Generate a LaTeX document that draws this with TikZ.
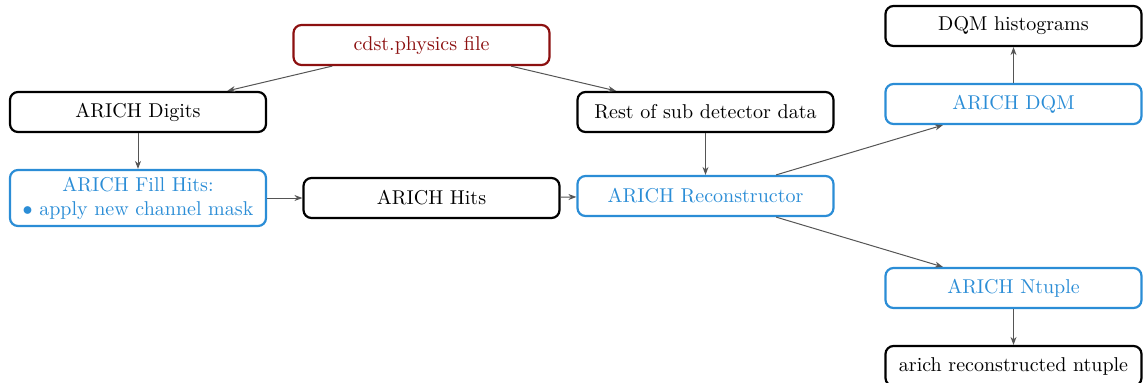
\documentclass[tikz,border=0pt]{standalone}
\usetikzlibrary{arrows.meta}
\definecolor{bblue}{RGB}{43,141,214}
\definecolor{dred}{RGB}{140,16,16}
\definecolor{agray}{RGB}{85,85,85}
\begin{document}
\begin{tikzpicture}[x=0.5pt,y=-0.5pt,
  box/.style={draw, rounded corners=4pt, line width=1.1pt, minimum width=128pt, minimum height=20pt, inner sep=2pt, align=center},
  blk/.style={box, draw=black, text=black},
  blu/.style={box, draw=bblue, text=bblue},
  red/.style={box, draw=dred, text=dred},
  conn/.style={draw=agray, line width=0.5pt, -{Stealth[length=4pt,width=3pt]}}]
\useasboundingbox (0,0) rectangle (1146,382);
\node[red] (cdst) at (421.5,45) {cdst.physics file};
\node[blk] (digits) at (138,112) {ARICH Digits};
\node[blk] (rest) at (705.5,112) {Rest of sub detector data};
\node[blu, minimum height=28pt, inner sep=1pt] (fill) at (138,198) {ARICH Fill Hits:\\ $\bullet$ apply new channel mask};
\node[blk] (hits) at (431.5,198) {ARICH Hits};
\node[blu] (reco) at (705.5,196) {ARICH Reconstructor};
\node[blk] (hist) at (1013.5,26) {DQM histograms};
\node[blu] (dqm) at (1013.5,104) {ARICH DQM};
\node[blu] (ntup) at (1013.5,288) {ARICH Ntuple};
\node[blk] (out) at (1013.5,366) {arich reconstructed ntuple};
\draw[conn] (cdst) -- (digits);
\draw[conn] (cdst) -- (rest);
\draw[conn] (digits) -- (fill);
\draw[conn] (fill) -- (hits);
\draw[conn] (hits) -- (reco);
\draw[conn] (rest) -- (reco);
\draw[conn] (reco) -- (dqm);
\draw[conn] (reco) -- (ntup);
\draw[conn] (dqm) -- (hist);
\draw[conn] (ntup) -- (out);
\end{tikzpicture}
\end{document}
